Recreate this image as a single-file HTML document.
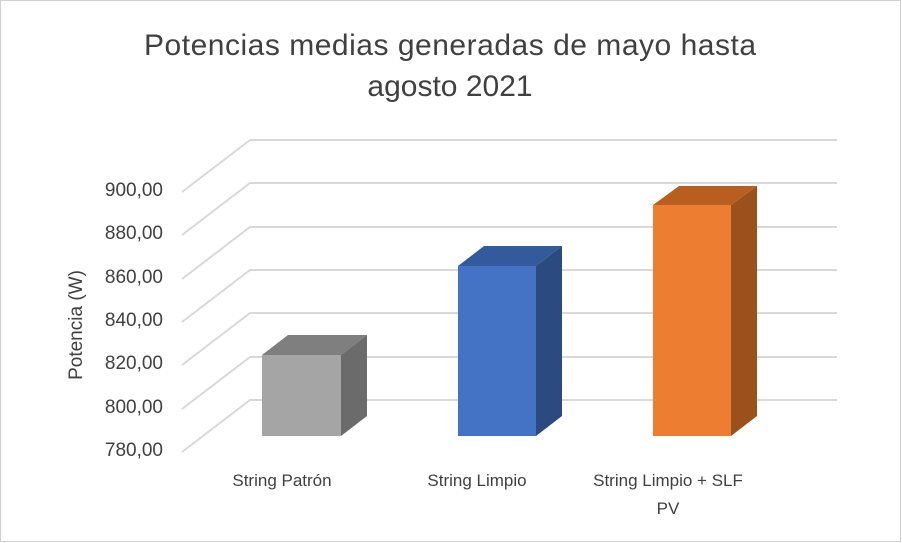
<!DOCTYPE html>
<html><head><meta charset="utf-8"><style>
html,body{margin:0;padding:0;background:#fff;}
svg{display:block;font-family:"Liberation Sans",sans-serif;}
</style></head><body>
<svg width="902" height="543" viewBox="0 0 902 543" xmlns="http://www.w3.org/2000/svg">
<rect x="0.5" y="0.5" width="900" height="541" fill="#fff" stroke="#d0d0d0"/>
<text x="450" y="55" font-size="30" fill="#404040" text-anchor="middle" textLength="612" lengthAdjust="spacing">Potencias medias generadas de mayo hasta</text>
<text x="450" y="96" font-size="30" fill="#404040" text-anchor="middle">agosto 2021</text>
<g stroke="#d9d9d9" stroke-width="2" fill="none">
<path d="M182 192 L250 140 L837 140"/>
<path d="M182 235 L250 183 L837 183"/>
<path d="M182 279 L250 227 L837 227"/>
<path d="M182 322 L250 270 L837 270"/>
<path d="M182 365 L250 313 L837 313"/>
<path d="M182 409 L250 357 L837 357"/>
<path d="M182 452 L250 400 L837 400"/>
</g>
<g font-size="19" fill="#404040" text-anchor="end">
<text x="163" y="196">900,00</text>
<text x="163" y="239">880,00</text>
<text x="163" y="283">860,00</text>
<text x="163" y="326">840,00</text>
<text x="163" y="369">820,00</text>
<text x="163" y="413">800,00</text>
<text x="163" y="456">780,00</text>
</g>
<text transform="translate(82,325) rotate(-90)" font-size="19" fill="#404040" text-anchor="middle">Potencia (W)</text>
<polygon points="262,355 288,335 367,335 341,355" fill="#7f7f7f"/>
<polygon points="341,355 367,335 367,416 341,436" fill="#6b6b6b"/>
<rect x="262" y="355" width="79" height="81" fill="#a5a5a5"/>
<polygon points="458,266 484,246 562,246 536,266" fill="#335a9c"/>
<polygon points="536,266 562,246 562,416 536,436" fill="#2b4a80"/>
<rect x="458" y="266" width="78" height="170" fill="#4472c4"/>
<polygon points="653,205 679,186 757,186 731,205" fill="#b85f1f"/>
<polygon points="731,205 757,186 757,416 731,436" fill="#9c501b"/>
<rect x="653" y="205" width="78" height="231" fill="#ed7d31"/>
<g font-size="17" fill="#404040" text-anchor="middle">
<text x="282" y="486">String Patrón</text>
<text x="477" y="486">String Limpio</text>
<text x="668" y="486">String Limpio + SLF</text>
<text x="668" y="514">PV</text>
</g>
</svg>
</body></html>
